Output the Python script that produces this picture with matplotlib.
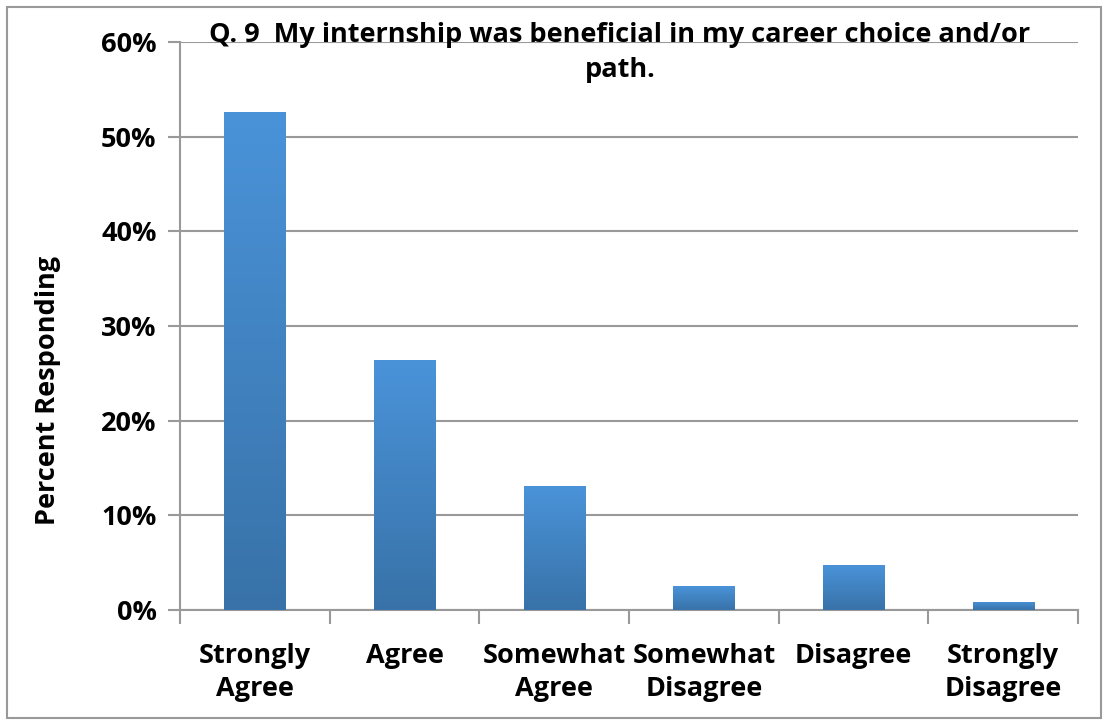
import matplotlib.pyplot as plt
import matplotlib.patches as mpatches
from matplotlib.colors import LinearSegmentedColormap
import numpy as np

categories = ["Strongly\nAgree", "Agree", "Somewhat\nAgree", "Somewhat\nDisagree", "Disagree", "Strongly\nDisagree"]
values = [52.6, 26.4, 13.1, 2.5, 4.75, 0.85]
yticks = [0, 10, 20, 30, 40, 50, 60]

plt.rcParams.update({
    'font.family': ['Open Sans', 'DejaVu Sans'],
    'font.weight': 'bold',
})
FS = 19.5

fig = plt.figure(figsize=(11.05, 7.21), dpi=100)
ax = fig.add_axes([0.163, 0.154, 0.8126, 0.7876])

x = np.arange(len(categories))
bars = ax.bar(x, values, width=0.41, color="#4286c8", zorder=3)

# vertical gradient on each bar
grad = np.linspace(0, 1, 256).reshape(-1, 1)
cmap = LinearSegmentedColormap.from_list("bar", ["#3872a8", "#4a93d9"])
for b in bars:
    bx, by = b.get_x(), b.get_y()
    w, h = b.get_width(), b.get_height()
    im = ax.imshow(grad, extent=[bx, bx + w, by, by + h], origin="lower",
                   cmap=cmap, aspect="auto", zorder=4)
    im.set_clip_path(b)

ax.set_xlim(-0.5, len(categories) - 0.5)
ax.set_ylim(0, 60)
ax.set_yticks(yticks)
ax.set_yticklabels([f"{v}%" for v in yticks], fontsize=FS, fontweight='bold')
ax.set_xticks(x)
ax.set_xticklabels(categories, fontsize=FS, fontweight='bold', linespacing=1.35)
ax.tick_params(axis='x', length=0, pad=24)
ax.tick_params(axis='y', length=9, color="#999999", width=1.5, pad=8)
ax.set_xticks(np.arange(-0.5, len(categories), 1), minor=True)
ax.tick_params(axis='x', which='minor', length=10, color="#999999", width=1.5)

ax.yaxis.grid(True, color="#999999", linewidth=1.5, zorder=0)
ax.set_axisbelow(True)
for s in ['top', 'right']:
    ax.spines[s].set_visible(False)
for s in ['left', 'bottom']:
    ax.spines[s].set_color("#999999")
    ax.spines[s].set_linewidth(1.5)

ax.set_ylabel("Percent Responding", fontsize=FS, fontweight='bold')
ax.yaxis.set_label_coords(-0.133, 0.386)

fig.text(0.561, 0.9265, "Q. 9  My internship was beneficial in my career choice and/or\npath.",
         ha='center', va='center', fontsize=FS, fontweight='bold', linespacing=1.45)

# outer border
fig.patches.append(mpatches.Rectangle((0.006, 0.004), 0.99, 0.986, transform=fig.transFigure,
                                      fill=False, edgecolor="#999999", linewidth=1.5))

fig.savefig("out.png", dpi=100)
